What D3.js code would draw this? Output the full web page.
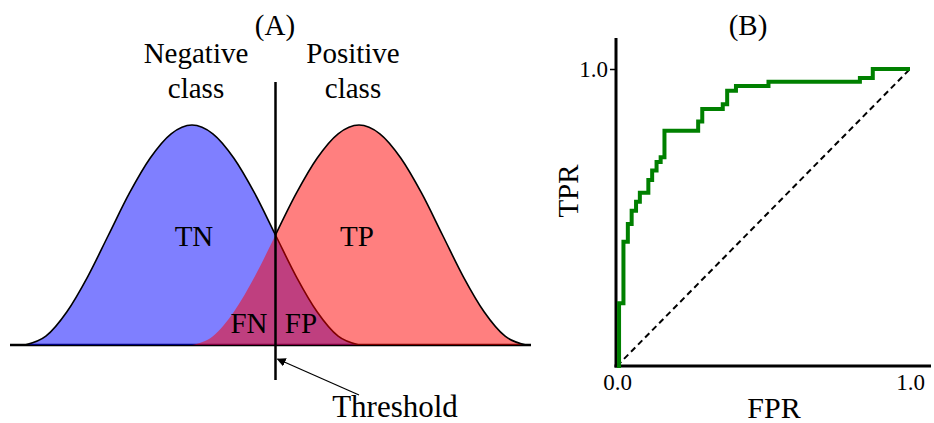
<!DOCTYPE html>
<html>
<head>
<meta charset="utf-8">
<script src="https://cdn.jsdelivr.net/npm/d3@7"></script>
<style>
  body { margin: 0; background: #fff; }
  text { font-family: "Liberation Serif", "DejaVu Serif", serif; fill: #000; }
</style>
</head>
<body>
<svg width="934" height="423"></svg>
<script>
// Panel A: two class score distributions
var negScore   = [0, 0.25, 0.5, 0.75, 1, 1.25, 1.5, 1.75, 2, 2.25, 2.5, 2.75, 3, 3.25, 3.5, 3.75, 4];
var negDensity = [0, 0.04, 0.15, 0.31, 0.5, 0.69, 0.85, 0.96, 1, 0.96, 0.85, 0.69, 0.5, 0.31, 0.15, 0.04, 0];
var posScore   = [2, 2.25, 2.5, 2.75, 3, 3.25, 3.5, 3.75, 4, 4.25, 4.5, 4.75, 5, 5.25, 5.5, 5.75, 6];
var posDensity = [0, 0.04, 0.15, 0.31, 0.5, 0.69, 0.85, 0.96, 1, 0.96, 0.85, 0.69, 0.5, 0.31, 0.15, 0.04, 0];
var threshold = 3;

// Panel B: ROC curve corners
var fpr = [0, 0.007, 0.022, 0.037, 0.050, 0.065, 0.078, 0.107, 0.120, 0.135, 0.149, 0.162, 0.277, 0.291, 0.361, 0.376, 0.406, 0.517, 0.829, 0.873, 1.0];
var tpr = [0, 0.211, 0.418, 0.478, 0.523, 0.553, 0.583, 0.626, 0.658, 0.687, 0.703, 0.792, 0.823, 0.865, 0.881, 0.927, 0.943, 0.957, 0.970, 1.0, 1.0];
var xTicks = [0, 1];
var yTicks = [1];

const svg = d3.select("svg");

// ---------- (A) ----------
const xA = d3.scaleLinear().domain([0, 6]).range([25, 526]);
const yA = d3.scaleLinear().domain([0, 1]).range([345, 125]);

const neg = negScore.map((s, i) => ({ s: s, d: negDensity[i] }));
const pos = posScore.map((s, i) => ({ s: s, d: posDensity[i] }));

const area = d3.area()
  .x(d => xA(d.s))
  .y0(yA(0))
  .y1(d => yA(d.d))
  .curve(d3.curveMonotoneX);
const line = d3.line()
  .x(d => xA(d.s))
  .y(d => yA(d.d))
  .curve(d3.curveMonotoneX);

// baseline (drawn first, fills tint it)
svg.append("line")
  .attr("x1", 10).attr("x2", 531)
  .attr("y1", yA(0)).attr("y2", yA(0))
  .attr("stroke", "#000").attr("stroke-width", 2.5);

svg.append("path")
  .attr("d", area(neg))
  .attr("fill", "#0000ff").attr("fill-opacity", 0.5);
svg.append("path")
  .attr("d", line(neg))
  .attr("fill", "none").attr("stroke", "#000").attr("stroke-width", 1.6);

svg.append("path")
  .attr("d", area(pos))
  .attr("fill", "#ff0000").attr("fill-opacity", 0.5);
svg.append("path")
  .attr("d", line(pos.filter(d => d.s >= threshold)))
  .attr("fill", "none").attr("stroke", "#000").attr("stroke-width", 1.6);

// threshold line
svg.append("line")
  .attr("x1", xA(threshold)).attr("x2", xA(threshold))
  .attr("y1", 82).attr("y2", 380)
  .attr("stroke", "#000").attr("stroke-width", 2.5);

// arrow
svg.append("defs").append("marker")
  .attr("id", "arr")
  .attr("viewBox", "0 0 10 10")
  .attr("refX", 9).attr("refY", 5)
  .attr("markerWidth", 9).attr("markerHeight", 9)
  .attr("markerUnits", "userSpaceOnUse")
  .attr("orient", "auto")
  .append("path")
  .attr("d", "M0,0 L10,5 L0,10 z")
  .attr("fill", "#000");

svg.append("line")
  .attr("x1", 359).attr("y1", 395)
  .attr("x2", xA(threshold) + 2).attr("y2", 359)
  .attr("stroke", "#000").attr("stroke-width", 1.2)
  .attr("marker-end", "url(#arr)");

const labelsA = [
  { t: "(A)", x: 275, y: 35, fs: 29 },
  { t: "Negative", x: 196, y: 63, fs: 29 },
  { t: "class", x: 196, y: 98, fs: 29 },
  { t: "Positive", x: 353, y: 63, fs: 29 },
  { t: "class", x: 353, y: 98, fs: 29 },
  { t: "TN", x: 194, y: 246, fs: 29 },
  { t: "TP", x: 357, y: 246, fs: 29 },
  { t: "FN", x: 249, y: 333, fs: 29 },
  { t: "FP", x: 301, y: 333, fs: 29 },
  { t: "Threshold", x: 395, y: 417, fs: 31 }
];
svg.selectAll("text.la")
  .data(labelsA)
  .join("text")
  .attr("class", "la")
  .attr("x", d => d.x).attr("y", d => d.y)
  .attr("text-anchor", "middle")
  .attr("font-size", d => d.fs)
  .text(d => d.t);

// ---------- (B) ----------
const xB = d3.scaleLinear().domain([0, 1]).range([617, 910]);
const yB = d3.scaleLinear().domain([0, 1]).range([366, 69]);

const gx = svg.append("g")
  .attr("transform", "translate(0," + yB(0) + ")")
  .call(d3.axisBottom(xB).tickValues(xTicks).tickSize(0).tickPadding(8)
    .tickFormat(d3.format(".1f")));
const gy = svg.append("g")
  .attr("transform", "translate(" + (xB(0) - 1) + ",0)")
  .call(d3.axisLeft(yB).tickValues(yTicks).tickSize(6).tickPadding(2)
    .tickFormat(d3.format(".1f")));
[gx, gy].forEach(g => {
  g.select(".domain").remove();
  g.selectAll("text")
    .attr("font-family", "Liberation Serif")
    .attr("font-size", 23)
    .attr("fill", "#000");
  g.selectAll("line").attr("stroke", "#000").attr("stroke-width", 1.5);
});

// thick axis lines
svg.append("line")
  .attr("x1", xB(0) - 1).attr("x2", xB(0) - 1)
  .attr("y1", 38).attr("y2", yB(0) + 1.5)
  .attr("stroke", "#000").attr("stroke-width", 3);
svg.append("line")
  .attr("x1", xB(0) - 2.5).attr("x2", 931)
  .attr("y1", yB(0)).attr("y2", yB(0))
  .attr("stroke", "#000").attr("stroke-width", 3);

// chance diagonal
svg.append("line")
  .attr("x1", xB(0)).attr("y1", yB(0))
  .attr("x2", xB(1)).attr("y2", yB(1))
  .attr("stroke", "#000").attr("stroke-width", 2)
  .attr("stroke-dasharray", "6,4");

// ROC curve
const roc = fpr.map((f, i) => [f, tpr[i]]);
svg.append("path")
  .attr("d", d3.line()
    .x(d => xB(d[0]))
    .y(d => yB(d[1]))
    .curve(d3.curveStepAfter)(roc))
  .attr("fill", "none")
  .attr("stroke", "#008000")
  .attr("stroke-width", 4);

svg.append("text")
  .attr("x", 748).attr("y", 35)
  .attr("text-anchor", "middle").attr("font-size", 29)
  .text("(B)");
svg.append("text")
  .attr("x", 774).attr("y", 418)
  .attr("text-anchor", "middle").attr("font-size", 30)
  .text("FPR");
svg.append("text")
  .attr("transform", "translate(578,191) rotate(-90)")
  .attr("text-anchor", "middle").attr("font-size", 29)
  .text("TPR");
</script>
</body>
</html>
